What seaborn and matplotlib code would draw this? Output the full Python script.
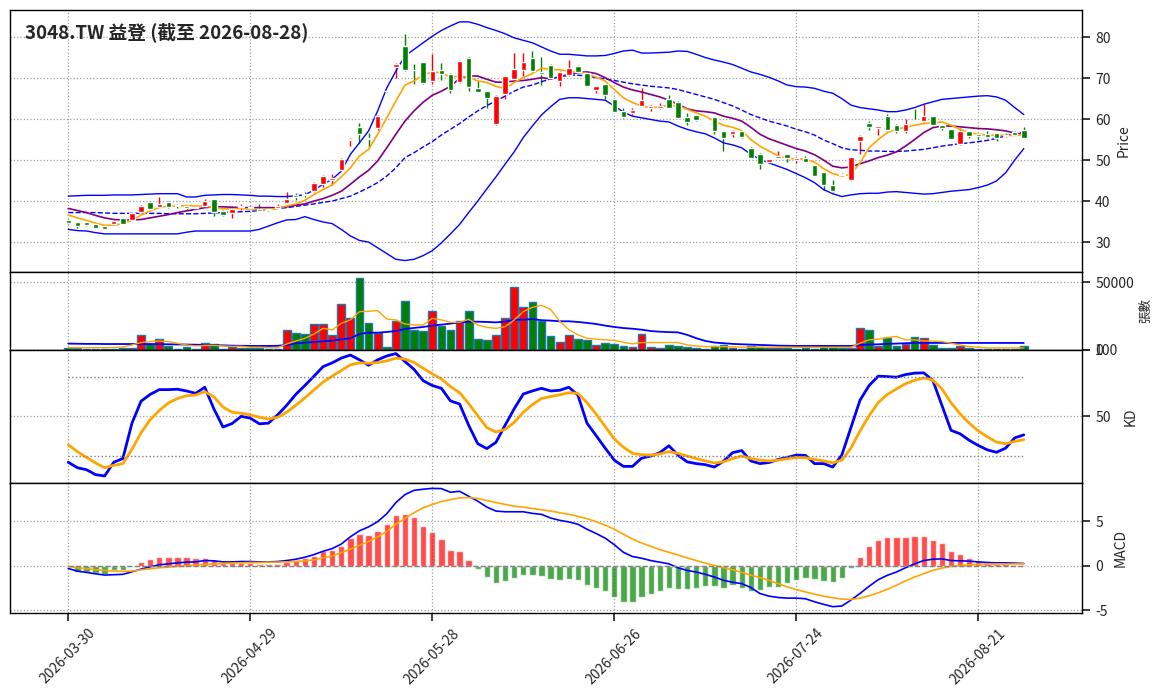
import numpy as np
import pandas as pd
import matplotlib
matplotlib.use('Agg')
import matplotlib.pyplot as plt
import seaborn as sns

# ---- values, one per trading day ----
title = '3048.TW 益登 (截至 2026-08-28)'
tick_labels = ['2026-03-30', '2026-04-29', '2026-05-28', '2026-06-26', '2026-07-24', '2026-08-21']

open_ = [35.4, 34.9, 34.9, 34.3, 33.9, 34.3, 35.8, 35.4, 37.3, 39.8,
         38.6, 39.8, 38.95, 38.8, 38.6, 38.8, 40.4, 37.7, 37.0, 38.6,
         38.6, 38.0, 38.0, 38.4, 39.6, 41.4, 41.8, 42.4, 44.1, 45.2,
         47.6, 55.0, 58.0, 55.3, 57.9, 66.85, 72.8, 77.8, 72.0, 73.9,
         69.3, 72.0, 71.1, 69.0, 75.0, 67.6, 66.8, 58.7, 66.0, 69.7,
         71.9, 75.0, 71.5, 73.2, 69.4, 70.7, 72.9, 71.3, 67.2, 68.5,
         65.0, 62.0, 61.5, 63.2, 62.6, 62.8, 64.8, 64.2, 60.5, 61.0,
         59.95, 60.5, 57.1, 56.4, 57.1, 53.0, 51.6, 49.6, 50.6, 51.4,
         50.0, 50.6, 48.7, 47.1, 44.0, 46.7, 45.2, 54.6, 59.0, 57.9,
         60.7, 58.5, 57.2, 59.85, 59.5, 60.7, 58.5, 57.5, 53.8, 57.1,
         56.3, 56.3, 56.5, 56.1, 56.9, 57.3]
close = [34.7, 33.9, 34.1, 33.5, 33.3, 35.2, 34.5, 37.2, 38.8, 38.1,
         39.3, 38.5, 38.85, 38.4, 38.4, 39.9, 37.4, 36.7, 38.0, 38.8,
         38.3, 37.6, 37.8, 38.9, 40.4, 41.1, 41.5, 44.4, 46.2, 45.7,
         50.2, 55.2, 56.3, 55.1, 60.7, 66.75, 73.5, 71.9, 71.9, 68.9,
         71.7, 71.1, 67.1, 74.1, 67.8, 66.7, 65.2, 65.6, 70.4, 72.3,
         73.9, 71.7, 71.0, 70.1, 71.5, 72.4, 71.5, 68.1, 68.0, 65.9,
         61.8, 60.5, 62.1, 64.6, 63.3, 63.3, 62.8, 60.3, 59.3, 59.8,
         59.85, 57.2, 55.4, 57.1, 55.6, 50.6, 49.1, 50.2, 51.1, 50.4,
         50.6, 49.6, 46.2, 44.0, 42.4, 46.3, 50.7, 55.9, 58.0, 58.3,
         57.3, 57.0, 58.7, 59.75, 60.7, 58.5, 57.9, 55.2, 57.1, 55.9,
         55.9, 55.6, 55.4, 55.9, 56.1, 55.4]
high = [35.6, 35.0, 35.0, 34.4, 34.0, 35.4, 35.9, 37.4, 39.1, 39.9,
        40.9, 39.9, 39.3, 38.9, 38.7, 40.6, 40.5, 37.8, 38.1, 39.2,
        38.8, 39.2, 38.1, 39.3, 42.2, 42.0, 42.3, 44.6, 46.4, 46.5,
        50.4, 55.3, 59.1, 56.6, 61.0, 66.9, 73.6, 80.7, 73.5, 74.0,
        75.8, 73.6, 71.2, 74.2, 75.2, 69.2, 66.9, 65.8, 70.5, 76.0,
        76.0, 76.7, 75.2, 73.5, 71.6, 74.3, 73.3, 71.4, 68.1, 68.6,
        65.1, 62.8, 62.8, 67.6, 63.5, 63.8, 65.8, 64.3, 61.4, 61.1,
        60.0, 60.6, 57.2, 57.3, 57.2, 53.3, 51.7, 50.3, 52.2, 51.5,
        50.8, 51.1, 48.8, 47.2, 45.1, 46.8, 50.8, 56.0, 59.5, 58.4,
        61.3, 58.8, 59.9, 62.4, 63.7, 60.8, 58.6, 57.6, 57.8, 57.2,
        56.4, 57.0, 56.6, 56.5, 57.0, 58.0]
low = [34.5, 33.5, 33.9, 33.4, 33.1, 34.2, 34.4, 35.3, 37.2, 38.0,
       38.5, 38.4, 38.3, 37.9, 38.2, 38.7, 36.4, 36.3, 35.8, 37.8,
       38.1, 37.5, 37.7, 38.3, 39.5, 40.2, 40.9, 42.3, 43.4, 43.9,
       47.5, 53.4, 54.2, 52.9, 57.4, 66.7, 70.1, 71.8, 68.5, 68.5,
       68.6, 69.5, 66.4, 68.9, 66.8, 66.5, 62.8, 58.6, 65.0, 69.5,
       70.5, 71.5, 68.2, 69.9, 68.0, 70.6, 71.4, 68.0, 66.3, 65.0,
       61.7, 60.2, 61.0, 63.1, 62.0, 62.5, 62.6, 60.2, 58.6, 59.6,
       59.8, 56.3, 52.2, 55.7, 55.3, 50.5, 47.7, 49.4, 50.5, 49.6,
       49.2, 49.5, 46.1, 42.6, 42.3, 46.0, 45.1, 51.6, 57.4, 56.1,
       57.2, 56.6, 56.5, 59.7, 59.4, 58.4, 57.3, 55.1, 53.7, 55.4,
       55.2, 55.5, 54.6, 55.6, 56.0, 55.3]

ma5 = [36.6, 35.9, 35.3, 34.6, 34.1, 34.1, 34.5, 35.3, 36.6, 37.6,
       38.4, 38.8, 38.8, 38.9, 38.8, 38.8, 38.4, 38.1, 38.1, 38.2,
       38.0, 37.9, 38.0, 38.2, 38.8, 39.3, 40.2, 41.6, 42.8, 43.9,
       45.9, 48.1, 51.0, 52.6, 56.3, 60.3, 64.4, 68.3, 69.3, 70.7,
       71.5, 71.3, 70.2, 70.5, 70.2, 69.3, 68.9, 68.0, 67.4, 68.9,
       70.1, 71.1, 72.4, 72.1, 72.0, 71.7, 71.5, 71.1, 70.2, 69.3,
       67.2, 65.2, 64.0, 63.2, 62.8, 62.9, 63.4, 63.2, 62.4, 61.5,
       60.7, 59.5, 58.5, 58.0, 57.2, 55.0, 53.4, 52.2, 51.0, 50.4,
       50.3, 50.2, 49.5, 47.9, 46.7, 46.1, 46.5, 49.3, 53.0, 55.0,
       56.7, 57.5, 58.0, 58.5, 58.9, 59.1, 59.3, 58.5, 57.5, 56.7,
       56.3, 56.1, 56.1, 56.0, 56.0, 56.1]
ma10 = [38.2, 37.7, 37.2, 36.5, 35.9, 35.5, 35.4, 35.4, 35.5, 35.9,
        36.3, 36.7, 37.2, 37.6, 38.0, 38.4, 38.6, 38.6, 38.5, 38.4,
        38.4, 38.4, 38.4, 38.4, 38.6, 39.0, 39.3, 40.0, 40.6, 41.4,
        42.4, 44.1, 45.9, 47.5, 49.8, 53.0, 56.3, 59.5, 62.0, 64.1,
        65.8, 66.8, 68.0, 69.9, 70.5, 70.5, 69.7, 69.0, 69.0, 69.3,
        69.4, 69.7, 70.1, 69.8, 70.3, 70.9, 71.3, 71.5, 71.1, 70.1,
        68.9, 67.8, 67.1, 66.6, 66.0, 65.4, 64.6, 63.6, 62.5, 62.0,
        61.8, 61.5, 60.7, 60.2, 59.5, 58.0, 56.3, 55.2, 54.4, 53.6,
        52.8, 52.2, 51.3, 50.0, 48.5, 48.1, 48.3, 49.1, 49.8, 50.6,
        51.2, 52.0, 53.4, 55.0, 56.7, 57.9, 58.3, 58.3, 58.1, 57.9,
        57.7, 57.6, 57.4, 57.1, 56.6, 56.3]
ma20 = [37.2, 37.2, 37.2, 37.2, 37.1, 37.0, 37.0, 37.0, 37.0, 37.0,
        37.0, 36.9, 36.9, 36.9, 36.9, 37.0, 37.1, 37.2, 37.3, 37.4,
        37.5, 37.7, 38.0, 38.2, 38.4, 38.7, 39.0, 39.3, 39.7, 40.0,
        40.6, 41.2, 42.2, 43.3, 44.5, 46.1, 48.1, 50.6, 51.8, 53.2,
        54.5, 56.1, 57.5, 58.9, 60.5, 62.0, 63.3, 64.4, 65.6, 66.8,
        67.8, 68.3, 69.1, 69.8, 70.3, 70.7, 70.7, 70.5, 70.1, 69.8,
        69.4, 69.0, 68.6, 68.3, 68.0, 67.8, 67.6, 67.2, 66.6, 66.0,
        65.4, 64.8, 64.0, 63.2, 62.2, 61.1, 60.3, 59.5, 58.9, 58.3,
        57.5, 56.9, 56.1, 54.9, 54.0, 53.0, 52.5, 52.4, 52.2, 52.2,
        52.1, 52.1, 52.2, 52.4, 52.6, 53.0, 53.4, 53.7, 54.0, 54.2,
        54.5, 54.8, 55.3, 55.9, 56.4, 56.9]
bb_upper = [41.2, 41.3, 41.4, 41.4, 41.4, 41.5, 41.5, 41.5, 41.6, 41.7,
            41.8, 41.8, 41.8, 41.0, 41.0, 41.4, 41.5, 41.6, 41.6, 41.5,
            41.4, 41.2, 41.2, 41.1, 41.1, 41.3, 41.5, 42.7, 44.1, 45.3,
            47.3, 51.4, 54.2, 57.1, 62.0, 67.6, 71.7, 75.4, 77.0, 78.6,
            80.2, 81.6, 82.7, 83.7, 83.7, 83.1, 82.3, 81.6, 80.8, 79.8,
            79.2, 78.6, 77.6, 76.6, 75.8, 75.8, 75.6, 75.4, 75.4, 75.5,
            76.0, 76.6, 76.8, 76.1, 76.1, 76.2, 76.3, 76.6, 76.5, 75.8,
            75.0, 74.4, 73.9, 73.3, 72.4, 71.5, 70.9, 70.2, 69.3, 68.3,
            67.9, 67.8, 67.5, 66.8, 66.3, 65.0, 63.4, 62.8, 62.5, 62.2,
            61.8, 61.8, 62.2, 62.8, 63.6, 64.2, 64.8, 65.0, 65.2, 65.4,
            65.6, 65.7, 65.4, 64.6, 62.8, 61.1]
bb_lower = [33.1, 32.8, 32.7, 32.3, 32.0, 32.0, 32.0, 32.0, 32.0, 32.0,
            32.0, 32.0, 32.0, 32.4, 32.7, 32.7, 32.7, 32.7, 32.7, 32.7,
            32.7, 33.1, 33.9, 34.7, 35.4, 35.5, 36.2, 35.5, 34.9, 34.5,
            33.1, 31.5, 30.4, 30.0, 28.6, 27.2, 25.8, 25.5, 25.8, 26.7,
            27.9, 29.8, 32.0, 34.3, 37.2, 40.0, 43.0, 45.9, 49.0, 52.0,
            55.5, 58.3, 61.0, 63.0, 64.8, 65.2, 65.2, 65.0, 64.8, 64.6,
            63.2, 61.7, 60.7, 60.3, 59.9, 59.5, 59.3, 58.3, 57.5, 56.9,
            56.4, 55.4, 54.2, 53.7, 53.0, 51.4, 50.2, 49.3, 48.5, 47.7,
            46.7, 45.7, 44.5, 42.8, 41.8, 41.1, 41.5, 41.8, 41.9, 41.9,
            42.2, 42.3, 42.1, 41.9, 41.7, 41.8, 42.1, 42.4, 42.6, 42.8,
            43.3, 43.9, 44.9, 46.9, 50.0, 52.8]

volume = [1200, 1200, 1000, 1000, 1000, 1000, 1200, 1500, 10800, 4400,
          7900, 2700, 1000, 2200, 1000, 4900, 4200, 1000, 2200, 1700,
          1200, 1200, 1000, 1000, 14500, 12300, 11600, 19000, 19000, 10800,
          33700, 23400, 53500, 19700, 12800, 2500, 21400, 36000, 14800, 14000,
          29100, 17700, 14500, 21700, 29100, 8400, 7100, 10800, 23900, 46300,
          31500, 35700, 21700, 10500, 5700, 11000, 8200, 7200, 4000, 5000,
          4500, 2700, 2500, 11700, 2500, 1200, 3500, 2700, 2500, 1200,
          700, 2700, 3500, 1700, 1000, 2700, 2500, 1700, 1200, 1200,
          1000, 1200, 1000, 3200, 2000, 1700, 1700, 16200, 14700, 3200,
          8700, 3000, 4700, 9500, 8700, 3500, 1700, 1700, 2700, 1200,
          700, 700, 700, 700, 700, 2700]
vol_ma5 = [1700, 1700, 1700, 1700, 1700, 1800, 2200, 3700, 5400, 6200,
           6600, 6200, 4900, 3700, 3000, 3400, 3400, 3000, 2700, 2700,
           2000, 2000, 1700, 1700, 4400, 6600, 8600, 11800, 16000, 14800,
           19700, 22200, 28300, 28600, 29100, 22900, 22200, 19200, 18500, 18500,
           23400, 22200, 20400, 20400, 22700, 18500, 16700, 16000, 17200, 22200,
           28300, 31500, 33000, 30000, 21200, 15000, 11200, 8700, 8000, 7500,
           7000, 5700, 4500, 5500, 5500, 5500, 5500, 5500, 3700, 3000,
           2500, 2500, 2500, 2300, 2000, 2000, 2000, 2000, 2000, 2000,
           2000, 2000, 2000, 2000, 2000, 2000, 2000, 5000, 7500, 8000,
           9200, 10000, 7500, 7500, 6700, 6500, 6200, 5000, 3700, 2500,
           2000, 1500, 1500, 1500, 1500, 1500]
vol_ma20 = [4700, 4600, 4500, 4500, 4400, 4400, 4400, 4400, 4400, 4400,
            4300, 4200, 4100, 4000, 3900, 3700, 3600, 3400, 3200, 3100,
            3000, 3000, 3000, 3100, 3700, 4900, 5400, 5900, 6400, 6900,
            7900, 8600, 11800, 12800, 12800, 13300, 14000, 15500, 16300, 17000,
            18000, 18700, 19500, 20400, 20900, 20900, 20700, 20400, 20900, 22200,
            22400, 22800, 22000, 21700, 21200, 21200, 20700, 20000, 19200, 18000,
            17000, 16200, 15700, 15000, 14000, 13500, 13200, 13000, 11200, 8700,
            6700, 5500, 5000, 4500, 4200, 4000, 3700, 3500, 3200, 3100,
            3000, 3000, 3000, 3000, 3000, 3000, 3000, 3700, 4000, 4200,
            4500, 4700, 5000, 5200, 5200, 5200, 5200, 5200, 5200, 5200,
            5200, 5200, 5200, 5200, 5200, 5200]

k_line = [15.6, 11.5, 10.0, 6.3, 5.3, 15.6, 18.4, 45.0, 61.5, 66.6,
          70.2, 70.2, 70.5, 69.2, 67.4, 72.0, 55.8, 42.1, 44.7, 50.1,
          48.8, 44.5, 45.0, 51.2, 58.4, 66.6, 73.3, 80.3, 87.5, 90.3,
          93.9, 96.2, 92.6, 88.5, 92.6, 95.5, 97.3, 91.3, 85.4, 76.9,
          73.3, 71.2, 61.7, 59.4, 43.4, 29.5, 25.9, 30.6, 43.4, 55.8,
          66.9, 69.2, 71.2, 69.2, 69.7, 72.0, 66.1, 45.0, 35.7, 26.2,
          17.2, 12.5, 12.5, 18.7, 20.3, 22.8, 28.0, 21.0, 15.9, 14.6,
          13.8, 12.0, 16.4, 22.8, 24.4, 16.6, 14.6, 15.4, 17.7, 19.2,
          21.0, 20.8, 14.6, 14.6, 12.0, 21.0, 41.6, 62.2, 73.3, 80.3,
          80.0, 79.5, 81.5, 82.6, 82.8, 77.2, 58.4, 39.6, 37.0, 32.1,
          28.2, 24.9, 23.1, 26.2, 33.9, 36.2]
d_line = [28.8, 23.6, 19.2, 15.1, 11.5, 13.3, 14.6, 25.4, 37.8, 47.5,
          54.5, 60.2, 63.5, 65.6, 66.1, 68.7, 64.8, 57.1, 53.2, 52.4,
          51.2, 49.4, 48.1, 49.4, 53.2, 58.4, 64.0, 70.0, 75.9, 80.3,
          84.6, 88.8, 90.3, 90.0, 90.6, 91.8, 93.9, 93.1, 90.6, 86.2,
          82.1, 78.2, 72.5, 67.9, 59.7, 50.6, 41.6, 38.3, 40.3, 45.5,
          53.2, 58.9, 63.5, 65.0, 66.3, 67.9, 67.4, 60.4, 51.9, 42.4,
          33.1, 27.0, 22.3, 21.3, 21.0, 21.8, 23.6, 22.3, 20.3, 18.4,
          16.6, 15.1, 15.9, 18.4, 20.3, 18.4, 17.2, 16.6, 17.2, 18.2,
          19.2, 19.0, 17.7, 16.6, 15.1, 17.2, 26.2, 39.1, 50.6, 60.4,
          66.6, 70.7, 74.6, 77.2, 79.0, 77.4, 70.7, 60.4, 51.9, 45.0,
          39.1, 34.7, 30.8, 29.5, 31.3, 32.6]

dif = [-0.3, -0.6, -0.74, -0.9, -1.04, -1.0, -0.96, -0.67, -0.37, -0.11,
       0.11, 0.22, 0.33, 0.41, 0.44, 0.59, 0.56, 0.44, 0.44, 0.48,
       0.48, 0.44, 0.44, 0.48, 0.59, 0.74, 0.96, 1.26, 1.63, 1.93,
       2.44, 3.26, 3.93, 4.37, 4.96, 5.85, 7.1, 8.0, 8.48, 8.6,
       8.7, 8.67, 8.26, 8.37, 7.81, 7.26, 6.59, 6.15, 6.07, 6.07,
       6.07, 5.89, 5.78, 5.37, 5.11, 4.93, 4.67, 4.11, 3.63, 3.11,
       2.37, 1.52, 1.04, 0.85, 0.59, 0.41, 0.22, -0.22, -0.52, -0.7,
       -0.96, -1.26, -1.63, -1.85, -2.0, -2.44, -3.11, -3.41, -3.56, -3.63,
       -3.63, -3.7, -4.04, -4.33, -4.59, -4.52, -3.85, -3.11, -2.3, -1.56,
       -1.07, -0.7, -0.22, 0.22, 0.59, 0.74, 0.78, 0.59, 0.56, 0.52,
       0.44, 0.37, 0.33, 0.33, 0.3, 0.26]
dea = [-0.07, -0.22, -0.33, -0.44, -0.52, -0.59, -0.63, -0.59, -0.44, -0.33,
       -0.22, -0.15, -0.07, 0.0, 0.07, 0.15, 0.22, 0.26, 0.3, 0.33,
       0.37, 0.37, 0.41, 0.41, 0.44, 0.48, 0.56, 0.67, 0.89, 1.11,
       1.48, 1.89, 2.3, 2.74, 3.26, 3.85, 4.67, 5.33, 5.96, 6.52,
       6.89, 7.22, 7.44, 7.63, 7.67, 7.56, 7.33, 7.11, 6.89, 6.7,
       6.59, 6.44, 6.3, 6.15, 5.96, 5.78, 5.56, 5.3, 4.96, 4.56,
       4.11, 3.56, 3.0, 2.56, 2.19, 1.81, 1.52, 1.22, 0.89, 0.59,
       0.3, 0.04, -0.22, -0.44, -0.74, -1.04, -1.33, -1.63, -2.0, -2.37,
       -2.67, -2.93, -3.19, -3.41, -3.59, -3.74, -3.78, -3.63, -3.37, -3.04,
       -2.63, -2.19, -1.7, -1.26, -0.89, -0.52, -0.26, -0.07, 0.04, 0.11,
       0.15, 0.19, 0.2, 0.2, 0.21, 0.22]
macd_hist = [-0.15, -0.7, -0.74, -0.8, -0.9, -0.5, -0.5, -0.05, 0.48, 0.81,
             1.04, 1.04, 1.04, 1.04, 0.93, 0.93, 0.7, 0.3, 0.26, 0.3,
             0.3, 0.15, 0.19, 0.19, 0.41, 0.6, 0.85, 1.15, 1.63, 1.74,
             2.26, 3.07, 3.59, 3.48, 3.93, 4.7, 5.7, 5.81, 5.48, 4.48,
             3.81, 3.04, 1.81, 1.7, 0.6, -0.37, -1.26, -1.93, -1.7, -1.37,
             -1.04, -1.04, -1.15, -1.48, -1.59, -1.48, -1.59, -2.19, -2.48, -2.81,
             -3.48, -4.04, -4.04, -3.48, -3.15, -2.81, -2.48, -2.59, -2.59, -2.48,
             -2.26, -2.26, -2.48, -2.15, -2.48, -2.81, -2.7, -2.37, -2.37, -1.93,
             -1.59, -1.37, -1.48, -1.7, -1.81, -1.37, -0.26, 1.04, 2.26, 2.93,
             3.26, 3.26, 3.26, 3.37, 3.37, 2.93, 2.52, 1.7, 1.37, 0.93,
             0.59, 0.3, 0.22, 0.15, 0.11, 0.07]

df = pd.DataFrame({
    'open': open_, 'close': close, 'high': high, 'low': low,
    'ma5': ma5, 'ma10': ma10, 'ma20': ma20,
    'upper': bb_upper, 'lower': bb_lower,
    'volume': volume, 'vol_ma5': vol_ma5, 'vol_ma20': vol_ma20,
    'K': k_line, 'D': d_line,
    'DIF': dif, 'DEA': dea, 'hist': macd_hist,
})
x = df.index.values
n = len(df)

sns.set_theme(style="ticks")
plt.rcParams['font.family'] = ['Noto Sans CJK TC', 'DejaVu Sans']
plt.rcParams['axes.unicode_minus'] = False
plt.rcParams['font.size'] = 10
plt.rcParams['xtick.labelsize'] = 10
plt.rcParams['ytick.labelsize'] = 10
plt.rcParams['axes.labelsize'] = 10
plt.rcParams['axes.edgecolor'] = 'black'
plt.rcParams['axes.linewidth'] = 1.0

fig = plt.figure(figsize=(11.63, 6.98), dpi=100)
left, width = 0.0086, 0.9218
ax1 = fig.add_axes([left, 0.6103, width, 0.3754])
ax2 = fig.add_axes([left, 0.4986, width, 0.1117], sharex=ax1)
ax3 = fig.add_axes([left, 0.3080, width, 0.1906], sharex=ax1)
ax4 = fig.add_axes([left, 0.1218, width, 0.1862], sharex=ax1)

# red = up day, green = down day (Taiwan convention)
colors = np.where(df['close'] >= df['open'], 'red', 'green')

### 1. Candles + Bollinger + MAs
ax1.vlines(x, df['low'], df['high'], colors=colors, linewidth=1, zorder=2)
ax1.bar(x, df['close'] - df['open'], bottom=df['open'], width=0.6, color=colors, zorder=3)
sns.lineplot(x=x, y=df['upper'], ax=ax1, color='blue', linewidth=1)
sns.lineplot(x=x, y=df['lower'], ax=ax1, color='blue', linewidth=1)
sns.lineplot(x=x, y=df['ma20'], ax=ax1, color='blue', linewidth=1, linestyle='--')
sns.lineplot(x=x, y=df['ma10'], ax=ax1, color='purple', linewidth=1.2)
sns.lineplot(x=x, y=df['ma5'], ax=ax1, color='orange', linewidth=1.2)
ax1.set_ylim(22.7, 86.6)
ax1.set_ylabel('Price')
ax1.text(0.014, 0.955, title, transform=ax1.transAxes, fontsize=13.5,
         fontweight='bold', va='top', ha='left')

### 2. Volume
ax2.bar(x, df['volume'], width=0.85, color=colors, edgecolor='#1f77b4', linewidth=1)
sns.lineplot(x=x, y=df['vol_ma20'], ax=ax2, color='blue', linewidth=1.3)
sns.lineplot(x=x, y=df['vol_ma5'], ax=ax2, color='orange', linewidth=1)
ax2.set_ylim(0, 57600)
ax2.set_yticks([0, 50000])
ax2.set_ylabel('張數', fontsize=9)

### 3. KD
sns.lineplot(x=x, y=df['K'], ax=ax3, color='blue', linewidth=2)
sns.lineplot(x=x, y=df['D'], ax=ax3, color='orange', linewidth=2)
ax3.hlines([20, 80], x[0], x[-1], colors='gray', linestyles=':', linewidth=1)
ax3.set_ylim(0, 100)
ax3.set_yticks([50, 100])
ax3.set_ylabel('KD')

### 4. MACD
hist_colors = np.where(df['hist'] >= 0, 'red', 'green')
ax4.bar(x, df['hist'], width=0.7, color=hist_colors, alpha=0.7)
sns.lineplot(x=x, y=df['DIF'], ax=ax4, color='blue', linewidth=1.2)
sns.lineplot(x=x, y=df['DEA'], ax=ax4, color='orange', linewidth=1.2)
ax4.hlines(0, x[0], x[-1], colors='gray', linestyles='--', linewidth=1)
ax4.set_ylim(-5.3, 9.3)
ax4.set_yticks([-5, 0, 5])
ax4.set_ylabel('MACD')

# shared styling
for ax in [ax1, ax2, ax3, ax4]:
    ax.yaxis.tick_right()
    ax.yaxis.set_label_position('right')
    ax.grid(True, linestyle=':', color='#a0a0a0', linewidth=0.9)
    ax.set_xlim(-6.4, 111.4)
    for s in ax.spines.values():
        s.set_visible(True)
        s.set_color('black')
for ax in [ax1, ax2, ax3]:
    ax.tick_params(axis='x', bottom=False, labelbottom=False)

ax4.set_xticks(range(0, n, 20))
ax4.set_xticklabels(tick_labels, rotation=45)

plt.savefig('out.png', dpi=100)
plt.close()
